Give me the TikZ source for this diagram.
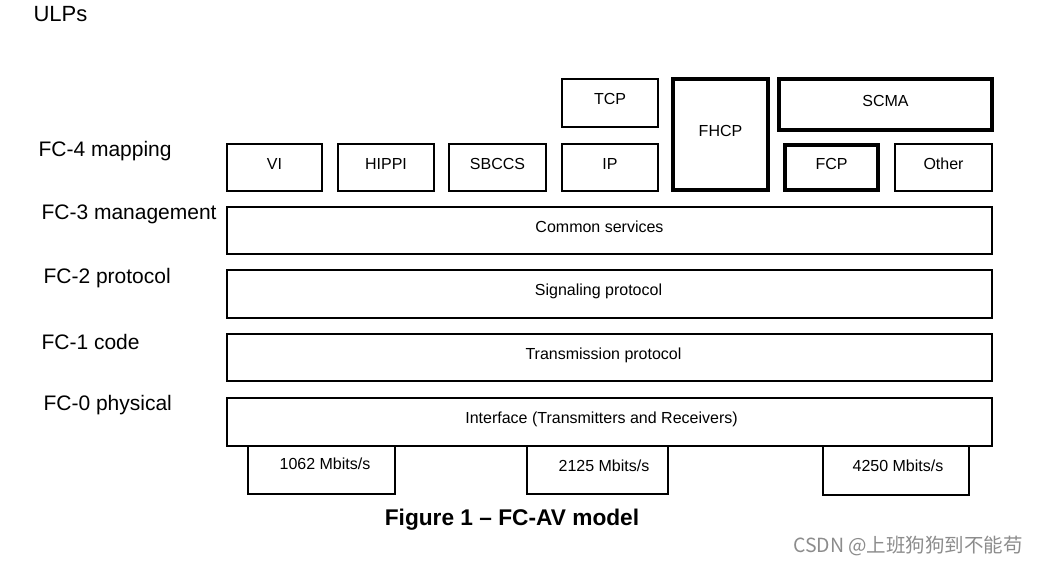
\documentclass[tikz,border=0pt]{standalone}
\usepackage{fontspec}
\setmainfont{Liberation Sans}
\newfontfamily\cjk{Noto Sans CJK SC}

\begin{document}
\begin{tikzpicture}[x=1pt, y=-1pt,
  box/.style={draw, line width=2pt, inner sep=0pt, text height=11pt, text depth=8pt,
    font=\fontsize{16}{18}\selectfont},
  heavybox/.style={box, line width=4.5pt},
  layer/.style={anchor=west, font=\fontsize{21}{24}\selectfont},
  rate/.style={font=\fontsize{16}{18}\selectfont}]
  \useasboundingbox (0,0) rectangle (1039,565);

  % layer names
  \node[layer, font=\fontsize{22}{24}\selectfont] (ulps) at (30,14) {ULPs};
  \node[layer] (fc4) at (35,151) {FC-4 mapping};
  \node[layer] (fc3) at (38,214) {FC-3 management};
  \node[layer] (fc2) at (40,278) {FC-2 protocol};
  \node[layer] (fc1) at (38,342) {FC-1 code};
  \node[layer] (fc0) at (40,405) {FC-0 physical};

  % FC-4 boxes
  \node[box, minimum width=95, minimum height=47] (vi) at (274.5,167.5) {VI};
  \node[box, minimum width=96, minimum height=47] (hippi) at (386,167.5) {HIPPI};
  \node[box, minimum width=97, minimum height=47] (sbccs) at (497.5,167.5) {SBCCS};
  \node[box, minimum width=96, minimum height=47] (ip) at (610,167.5) {IP};
  \node[box, minimum width=96, minimum height=48] (tcp) at (610,103) {TCP};
  \node[heavybox, minimum width=95, minimum height=111] (fhcp) at (720.5,134.5) {FHCP};
  \node[heavybox, minimum width=213, minimum height=51] (scma) at (885.5,104.5) {SCMA};
  \node[heavybox, minimum width=93, minimum height=45] (fcp) at (831.5,167.5) {FCP};
  \node[box, minimum width=97, minimum height=47] (other) at (943.5,167.5) {Other};

  % FC-3 .. FC-0
  \node[box, minimum width=765, minimum height=47] (common) at (609.5,230.5) {Common services\kern20pt};
  \node[box, minimum width=765, minimum height=48] (signal) at (609.5,294) {Signaling protocol\kern22pt};
  \node[box, minimum width=765, minimum height=47] (trans) at (609.5,357.5) {Transmission protocol\kern12pt};
  \node[box, minimum width=765, minimum height=48] (iface) at (609.5,422) {Interface (Transmitters and  Receivers)\kern16pt};

  % rates
  \node[box, minimum width=147, minimum height=48] (r1) at (321.5,470) {};
  \node[box, minimum width=141, minimum height=48] (r2) at (597.5,470) {};
  \node[box, minimum width=146, minimum height=49] (r3) at (896,470.5) {};
  \node[rate] (t1) at (325,464) {1062 Mbits/s};
  \node[rate] (t2) at (604,466) {2125  Mbits/s};
  \node[rate] (t3) at (898,466) {4250 Mbits/s};

  \node[font=\fontsize{22.7}{26}\selectfont\bfseries] (cap) at (512,520) {Figure 1 -- FC-AV model};
  \node[text=black!45, font=\fontsize{19.5}{22}\selectfont] (mark) at (908,546) {\cjk CSDN @上班狗狗到不能苟};
\end{tikzpicture}
\end{document}
